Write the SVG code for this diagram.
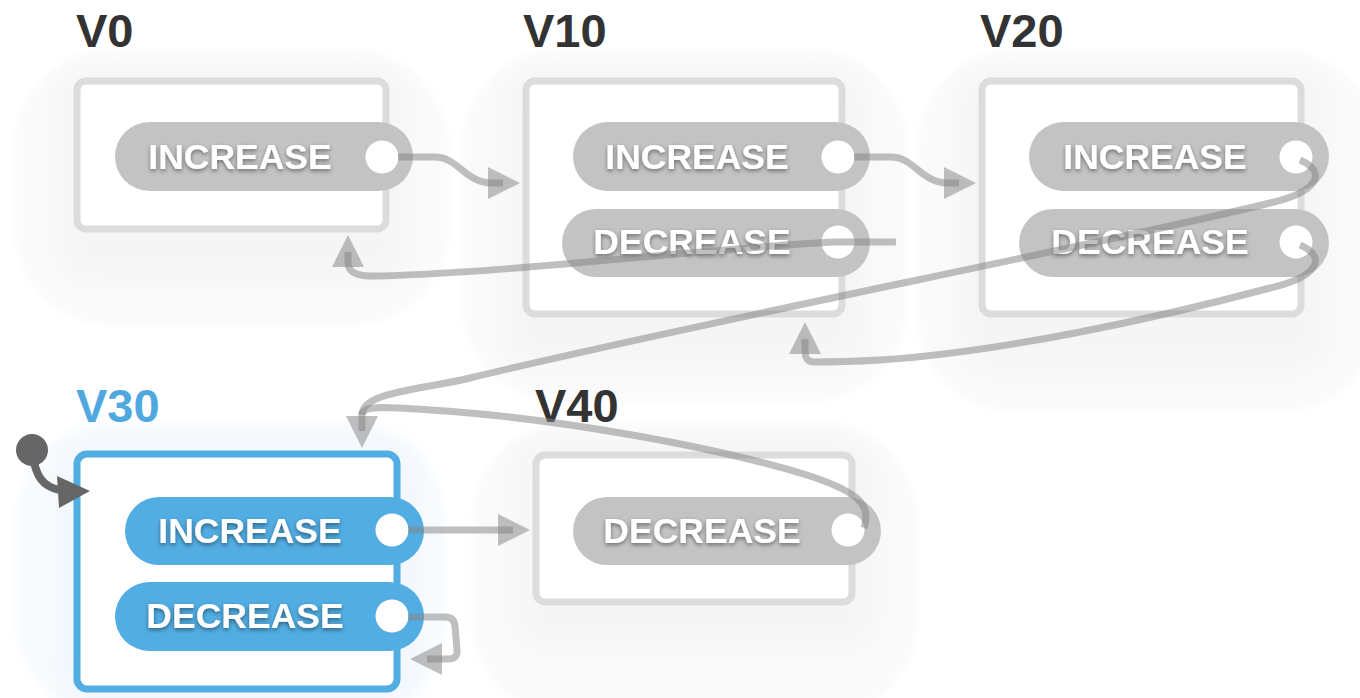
<svg xmlns="http://www.w3.org/2000/svg" width="1360" height="698" viewBox="0 0 1360 698">
<style>
.halo-o{fill:#fafafa;filter:url(#soft)}
.halo-i{fill:#f5f5f5;filter:url(#blur)}
.halo-ob{fill:#f8fbfe;filter:url(#soft)}
.halo-ib{fill:#f1f7fd;filter:url(#blur)}
.title{font-family:"Liberation Sans",Arial,sans-serif;font-weight:700;font-size:47px;fill:#333}
.title-a{fill:#4fa8e0}
.box{fill:#fff;stroke:#dcdcdc;stroke-width:7}
.box-a{fill:#fff;stroke:#52ade3;stroke-width:7}
.pill{fill:#c3c3c3}
.pill-a{fill:#52ade3}
.port{fill:#fff}
.lbl{font-family:"Liberation Sans",Arial,sans-serif;font-weight:700;font-size:35.5px;fill:#fff;text-anchor:middle;filter:url(#tshadow)}
.edge{fill:none;stroke:#858585;stroke-opacity:0.52;stroke-width:7}
.start{fill:none;stroke:#666;stroke-width:8}
</style>
<defs>
<filter id="soft" x="-20%" y="-20%" width="140%" height="140%"><feGaussianBlur stdDeviation="4"/></filter>
<filter id="blur" x="-30%" y="-30%" width="160%" height="160%"><feGaussianBlur stdDeviation="14"/></filter>
<filter id="tshadow" x="-10%" y="-30%" width="120%" height="160%"><feDropShadow dx="0" dy="2" stdDeviation="2" flood-color="#000" flood-opacity="0.45"/></filter>
<marker id="arr" markerUnits="userSpaceOnUse" markerWidth="32" markerHeight="32" viewBox="0 0 32 32" refX="15" refY="16" orient="auto">
<path d="M0,0 L32,16 L0,32 z" fill="#858585" fill-opacity="0.52"/>
</marker>
</defs>

<g id="node-v0">
<rect class="halo-o" x="15" y="52" width="433" height="272" rx="95"/>
<rect class="halo-i" x="60" y="70" width="345" height="210" rx="30"/>
<text class="title" x="76" y="47">V0</text>
<rect class="box" x="77" y="81" width="309" height="148" rx="9"/>
<rect class="pill" x="115" y="122" width="298" height="69" rx="34.5"/>
<text class="lbl" x="240" y="169">INCREASE</text>
<circle class="port" cx="382" cy="157" r="16.5"/>
</g>

<g id="node-v10">
<rect class="halo-o" x="463" y="52" width="444" height="348" rx="95"/>
<rect class="halo-i" x="505" y="70" width="360" height="295" rx="30"/>
<text class="title" x="523" y="47">V10</text>
<rect class="box" x="526" y="81" width="316" height="233" rx="9"/>
<rect class="pill" x="573" y="122" width="297" height="69" rx="34.5"/>
<text class="lbl" x="697" y="169">INCREASE</text>
<circle class="port" cx="838" cy="157" r="16.5"/>
<rect class="pill" x="562" y="209" width="308" height="68" rx="34"/>
<text class="lbl" x="692" y="254">DECREASE</text>
<circle class="port" cx="838" cy="242" r="16.5"/>
</g>

<g id="node-v20">
<rect class="halo-o" x="918" y="52" width="460" height="358" rx="95"/>
<rect class="halo-i" x="960" y="70" width="365" height="300" rx="30"/>
<text class="title" x="980" y="47">V20</text>
<rect class="box" x="982" y="81" width="319" height="233" rx="9"/>
<rect class="pill" x="1029" y="122" width="300" height="69" rx="34.5"/>
<text class="lbl" x="1155" y="169">INCREASE</text>
<circle class="port" cx="1296" cy="157" r="16.5"/>
<rect class="pill" x="1019" y="209" width="310" height="68" rx="34"/>
<text class="lbl" x="1150" y="254">DECREASE</text>
<circle class="port" cx="1296" cy="242" r="16.5"/>
</g>

<g id="node-v40">
<rect class="halo-o" x="473" y="425" width="444" height="290" rx="95"/>
<rect class="halo-i" x="515" y="440" width="360" height="205" rx="30"/>
<text class="title" x="535" y="422">V40</text>
<rect class="box" x="536" y="455" width="316" height="147" rx="9"/>
<rect class="pill" x="573" y="497" width="308" height="68" rx="34"/>
<text class="lbl" x="702" y="543">DECREASE</text>
<circle class="port" cx="848" cy="530" r="16.5"/>
</g>

<g id="node-v30">
<rect class="halo-ob" x="15" y="425" width="430" height="290" rx="95"/>
<rect class="halo-ib" x="58" y="440" width="360" height="265" rx="30"/>
<text class="title title-a" x="76" y="422">V30</text>
<rect class="box-a" x="77" y="454" width="320" height="235" rx="10"/>
<rect class="pill-a" x="125" y="497" width="299" height="68" rx="34"/>
<text class="lbl" x="250" y="543">INCREASE</text>
<circle class="port" cx="392" cy="530" r="16.5"/>
<rect class="pill-a" x="115" y="582" width="309" height="69" rx="34.5"/>
<text class="lbl" x="245" y="628">DECREASE</text>
<circle class="port" cx="392" cy="616" r="16.5"/>
</g>

<g id="start">
<circle cx="32" cy="450" r="16" fill="#666"/>
<path class="start" d="M34 462 C38 482 48 489 66 491"/>
<polygon points="90,491 57,476 59,508" fill="#666"/>
</g>

<g id="connectors">
<path class="edge" marker-end="url(#arr)" d="M398 157 H435 C458 157 465 183 492 183 H503"/>
<path class="edge" marker-end="url(#arr)" d="M854 157 H891 C914 157 921 183 948 183 H959"/>
<path class="edge" marker-end="url(#arr)" d="M896 242 H835 C720 247 520 272 380 276 C355 277 348 272 348 262 V252"/>
<path class="edge" marker-end="url(#arr)" d="M1300 160 C1328 172 1318 192 1270 203 C1100 245 700 322 470 378 C420 390 362 392 362 415 V431"/>
<path class="edge" marker-end="url(#arr)" d="M1300 245 C1328 257 1318 277 1270 288 C1150 320 1000 352 880 360 C845 362 825 362 814 362 C807 362 805 358 805 350 V339"/>
<path class="edge" marker-end="url(#arr)" d="M408 530 H513"/>
<path class="edge" d="M864 528 C872 505 858 492 810 476 C720 448 560 418 430 410 C385 407 362 405 362 415"/>
<path class="edge" marker-end="url(#arr)" d="M408 617 H445 Q454 617 455 626 L457 650 Q458 659 448 659 H427"/>
</g>
</svg>
